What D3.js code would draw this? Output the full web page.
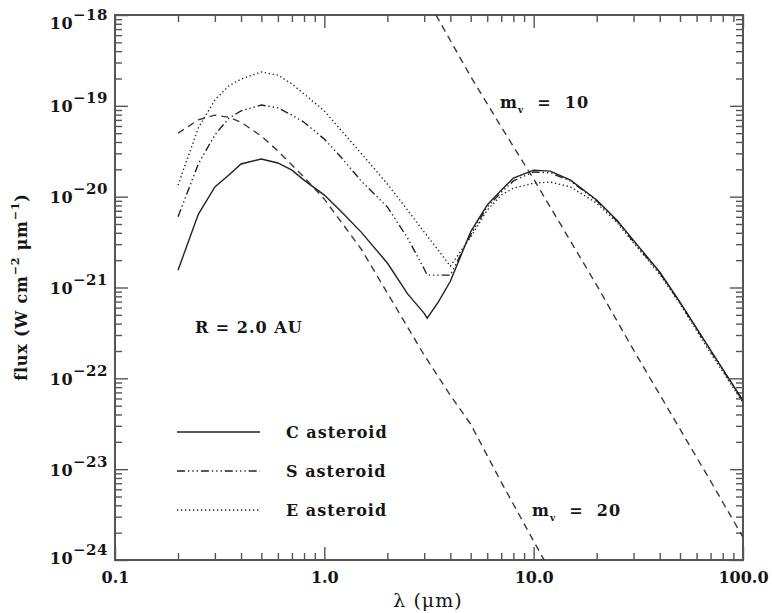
<!DOCTYPE html>
<html>
<head>
<meta charset="utf-8">
<script src="https://cdn.jsdelivr.net/npm/d3@7"></script>
<style>
  body { margin: 0; background: #fff; }
  svg { display: block; }
  text { font-family: "DejaVu Serif", serif; fill: #151515; }
</style>
</head>
<body>
<svg id="chart" width="772" height="613"></svg>
<script>
// Wavelength grid (micron) shared by the three asteroid spectra
const asteroidWavelength = [0.2, 0.25, 0.3, 0.35, 0.4, 0.5, 0.6, 0.7, 0.8, 1.0, 1.2, 1.5, 2.0, 2.5, 3.0, 3.1, 3.5, 4.0,
  5, 6, 7, 8, 10, 12, 15, 20, 25, 30, 40, 50, 70, 100];

// Flux, W cm^-2 um^-1
const cAsteroidFlux = [1.55e-21, 6.4e-21, 1.28e-20, 1.73e-20, 2.29e-20, 2.6e-20, 2.35e-20, 1.96e-20, 1.52e-20, 1.04e-20,
  6.9e-21, 4.07e-21, 1.86e-21, 8.5e-22, 5.2e-22, 4.6e-22, 6.9e-22, 1.17e-21,
  4.1e-21, 8.1e-21, 1.18e-20, 1.6e-20, 1.96e-20, 1.91e-20, 1.52e-20, 9.2e-21, 5.5e-21, 3.3e-21, 1.48e-21, 6.9e-22, 2.05e-22, 5.7e-23];
const sAsteroidFlux = [6.0e-21, 2.29e-20, 4.8e-20, 7.3e-20, 8.8e-20, 1.02e-19, 9.5e-20, 7.9e-20, 6.6e-20, 4.3e-20,
  2.73e-20, 1.49e-20, 7.7e-21, 3.5e-21, 1.6e-21, 1.37e-21, 1.37e-21, 1.37e-21,
  3.8e-21, 7.7e-21, 1.12e-20, 1.49e-20, 1.87e-20, 1.83e-20, 1.49e-20, 9.0e-21, 5.4e-21, 3.2e-21, 1.45e-21, 6.8e-22, 2.0e-22, 5.6e-23];
const eAsteroidFlux = [1.34e-20, 5.7e-20, 1.16e-19, 1.66e-19, 1.97e-19, 2.36e-19, 2.18e-19, 1.74e-19, 1.35e-19, 8.8e-20,
  5.4e-20, 3.0e-20, 1.38e-20, 7.1e-21, 4.07e-21, 3.7e-21, 2.58e-21, 1.72e-21,
  3.6e-21, 7.1e-21, 1.04e-20, 1.24e-20, 1.41e-20, 1.45e-20, 1.28e-20, 8.5e-21, 5.2e-21, 3.1e-21, 1.4e-21, 6.6e-22, 1.9e-22, 5.4e-23];

// Stellar reference spectra of visual magnitude 20 and 10
const mv20Wavelength = [0.2, 0.25, 0.3, 0.35, 0.4, 0.5, 0.6, 0.7, 0.8, 1.0, 1.5, 2.0, 3.0, 4.0, 5.0, 7.0, 10, 15];
const mv20Flux = [5.0e-20, 7.0e-20, 7.9e-20, 7.5e-20, 6.6e-20, 4.65e-20, 3.18e-20, 2.23e-20, 1.64e-20, 9.4e-21,
  2.65e-21, 8.7e-22, 1.80e-22, 6.5e-23, 3.13e-23, 7.2e-24, 1.61e-24, 3.0e-25];
const mv10Wavelength = [3.0, 4.0, 5.0, 7.0, 10, 15, 20, 30, 50, 70, 100];
const mv10Flux = [1.70e-18, 5.24e-19, 2.10e-19, 5.85e-20, 1.56e-20, 3.24e-21, 1.06e-21, 2.05e-22, 2.76e-23, 7.4e-24, 1.78e-24];

// Axis ticks
const xMajorTicks = [0.1, 1, 10, 100];
const xTickLabels = ["0.1", "1.0", "10.0", "100.0"];
const yExponents = [-18, -19, -20, -21, -22, -23, -24];
const legendLabels = ["C asteroid", "S asteroid", "E asteroid"];

const svg = d3.select("#chart");
const plot = { left: 115, right: 743, top: 15, bottom: 560 };

const x = d3.scaleLog().domain([0.1, 100]).range([plot.left, plot.right]);
const y = d3.scaleLog().domain([1e-24, 1e-18]).range([plot.bottom, plot.top]);

const xMinor = [];
for (let d = 0.1; d < 100; d *= 10) for (let k = 2; k <= 9; k++) xMinor.push(+(d * k).toPrecision(3));
const yMajor = yExponents.map(e => Math.pow(10, e));
const yMinor = [];
for (let e = -24; e < -18; e++) for (let k = 2; k <= 9; k++) yMinor.push(k * Math.pow(10, e));

const MAJOR = 13, MINOR = 7;
const axisColor = "#555";

function styleAxis(g) {
  g.select(".domain").remove();
  g.selectAll(".tick line").attr("stroke", axisColor).attr("stroke-width", 1.4);
}

// Bottom axis with labels
svg.append("g").attr("transform", `translate(0,${plot.bottom})`)
  .call(d3.axisBottom(x).tickValues(xMajorTicks).tickSizeInner(-MAJOR).tickSizeOuter(0).tickPadding(12)
    .tickFormat((d, i) => xTickLabels[i]))
  .call(styleAxis)
  .call(g => g.selectAll(".tick text").attr("font-size", 16).attr("font-weight", "bold")
    .attr("font-family", "DejaVu Serif").attr("fill", "#151515"));
svg.append("g").attr("transform", `translate(0,${plot.bottom})`)
  .call(d3.axisBottom(x).tickValues(xMinor).tickSizeInner(-MINOR).tickSizeOuter(0).tickFormat(""))
  .call(styleAxis);
// Top axis
svg.append("g").attr("transform", `translate(0,${plot.top})`)
  .call(d3.axisTop(x).tickValues(xMajorTicks).tickSizeInner(-MAJOR).tickSizeOuter(0).tickFormat(""))
  .call(styleAxis);
svg.append("g").attr("transform", `translate(0,${plot.top})`)
  .call(d3.axisTop(x).tickValues(xMinor).tickSizeInner(-MINOR).tickSizeOuter(0).tickFormat(""))
  .call(styleAxis);

// Left axis with power-of-ten labels
const leftAxis = svg.append("g").attr("transform", `translate(${plot.left},0)`)
  .call(d3.axisLeft(y).tickValues(yMajor).tickSizeInner(-MAJOR).tickSizeOuter(0).tickPadding(7).tickFormat(""))
  .call(styleAxis);
leftAxis.selectAll(".tick text").each(function (d, i) {
  const t = d3.select(this)
    .attr("font-size", 16).attr("font-weight", "bold").attr("font-family", "DejaVu Serif").attr("fill", "#151515")
    .attr("letter-spacing", 0.5);
  // keep the extreme labels inside the frame height
  const yy = y(d);
  let shift = 0;
  if (yy - plot.top < 5) shift = 7;
  if (plot.bottom - yy < 5) shift = -3;
  t.attr("dy", null).attr("y", 6 + shift);
  t.append("tspan").text("10");
  t.append("tspan").attr("font-size", 15).attr("dy", -9).text("\u2212" + String(-yExponents[i]));
});
svg.append("g").attr("transform", `translate(${plot.left},0)`)
  .call(d3.axisLeft(y).tickValues(yMinor).tickSizeInner(-MINOR).tickSizeOuter(0).tickFormat(""))
  .call(styleAxis);
// Right axis
svg.append("g").attr("transform", `translate(${plot.right},0)`)
  .call(d3.axisRight(y).tickValues(yMajor).tickSizeInner(-MAJOR).tickSizeOuter(0).tickFormat(""))
  .call(styleAxis);
svg.append("g").attr("transform", `translate(${plot.right},0)`)
  .call(d3.axisRight(y).tickValues(yMinor).tickSizeInner(-MINOR).tickSizeOuter(0).tickFormat(""))
  .call(styleAxis);

// Frame
svg.append("rect")
  .attr("x", plot.left).attr("y", plot.top)
  .attr("width", plot.right - plot.left).attr("height", plot.bottom - plot.top)
  .attr("fill", "none").attr("stroke", axisColor).attr("stroke-width", 2);

// Curves
svg.append("clipPath").attr("id", "plot-clip").append("rect")
  .attr("x", plot.left).attr("y", plot.top)
  .attr("width", plot.right - plot.left).attr("height", plot.bottom - plot.top);
const curves = svg.append("g").attr("clip-path", "url(#plot-clip)");

const line = d3.line().x(d => x(d[0])).y(d => y(d[1]));
const zip = (a, b) => a.map((v, i) => [v, b[i]]);

const styles = {
  solid: null,
  dashDot: "8,3,1.3,3,1.3,3,1.3,3",
  dotted: "1.3,2.7",
  dashed: "7,5"
};

const series = [
  { pts: zip(mv20Wavelength, mv20Flux), dash: styles.dashed, color: "#3a3a3a" },
  { pts: zip(mv10Wavelength, mv10Flux), dash: styles.dashed, color: "#3a3a3a" },
  { pts: zip(asteroidWavelength, eAsteroidFlux), dash: styles.dotted, color: "#222" },
  { pts: zip(asteroidWavelength, sAsteroidFlux), dash: styles.dashDot, color: "#222" },
  { pts: zip(asteroidWavelength, cAsteroidFlux), dash: styles.solid, color: "#222" }
];
curves.selectAll("path.series").data(series).join("path")
  .attr("class", "series")
  .attr("d", d => line(d.pts))
  .attr("fill", "none")
  .attr("stroke", d => d.color)
  .attr("stroke-width", 1.4)
  .attr("stroke-dasharray", d => d.dash);

// Legend
const legendDash = [styles.solid, styles.dashDot, styles.dotted];
const legend = svg.append("g");
legendLabels.forEach((lab, i) => {
  const ly = 432 + i * 39;
  legend.append("line").attr("x1", 177).attr("x2", 260).attr("y1", ly).attr("y2", ly)
    .attr("stroke", "#222").attr("stroke-width", 1.4).attr("stroke-dasharray", legendDash[i]);
  legend.append("text").attr("x", 286).attr("y", ly + 6)
    .attr("font-size", 16).attr("font-weight", "bold").attr("letter-spacing", 1).text(lab);
});

// Annotations
svg.append("text").attr("x", 195).attr("y", 333)
  .attr("font-size", 16).attr("font-weight", "bold").attr("letter-spacing", 1).attr("xml:space", "preserve")
  .text("R = 2.0 AU");

function magLabel(xp, yp, mag) {
  const t = svg.append("text").attr("x", xp).attr("y", yp)
    .attr("font-size", 16).attr("font-weight", "bold").attr("letter-spacing", 1);
  t.append("tspan").text("m");
  t.append("tspan").attr("font-size", 9).attr("dy", 5).text("v");
  t.append("tspan").attr("dy", -5).attr("xml:space", "preserve").text("  =  " + mag);
}
magLabel(500, 108, "10");
magLabel(532, 516, "20");

// Axis titles
svg.append("text").attr("x", 428).attr("y", 607).attr("text-anchor", "middle")
  .attr("font-size", 19).attr("letter-spacing", 1).text("\u03bb (\u03bcm)");

const yt = svg.append("text")
  .attr("transform", "translate(27,287) rotate(-90)")
  .attr("text-anchor", "middle").attr("font-size", 16).attr("font-weight", "bold").attr("letter-spacing", 0.8);
yt.append("tspan").text("flux (W cm");
yt.append("tspan").attr("font-size", 11).attr("dy", -8).text("\u22122");
yt.append("tspan").attr("dy", 8).attr("xml:space", "preserve").text(" \u03bcm");
yt.append("tspan").attr("font-size", 11).attr("dy", -8).text("\u22121");
yt.append("tspan").attr("dy", 8).text(")");
</script>
</body>
</html>
